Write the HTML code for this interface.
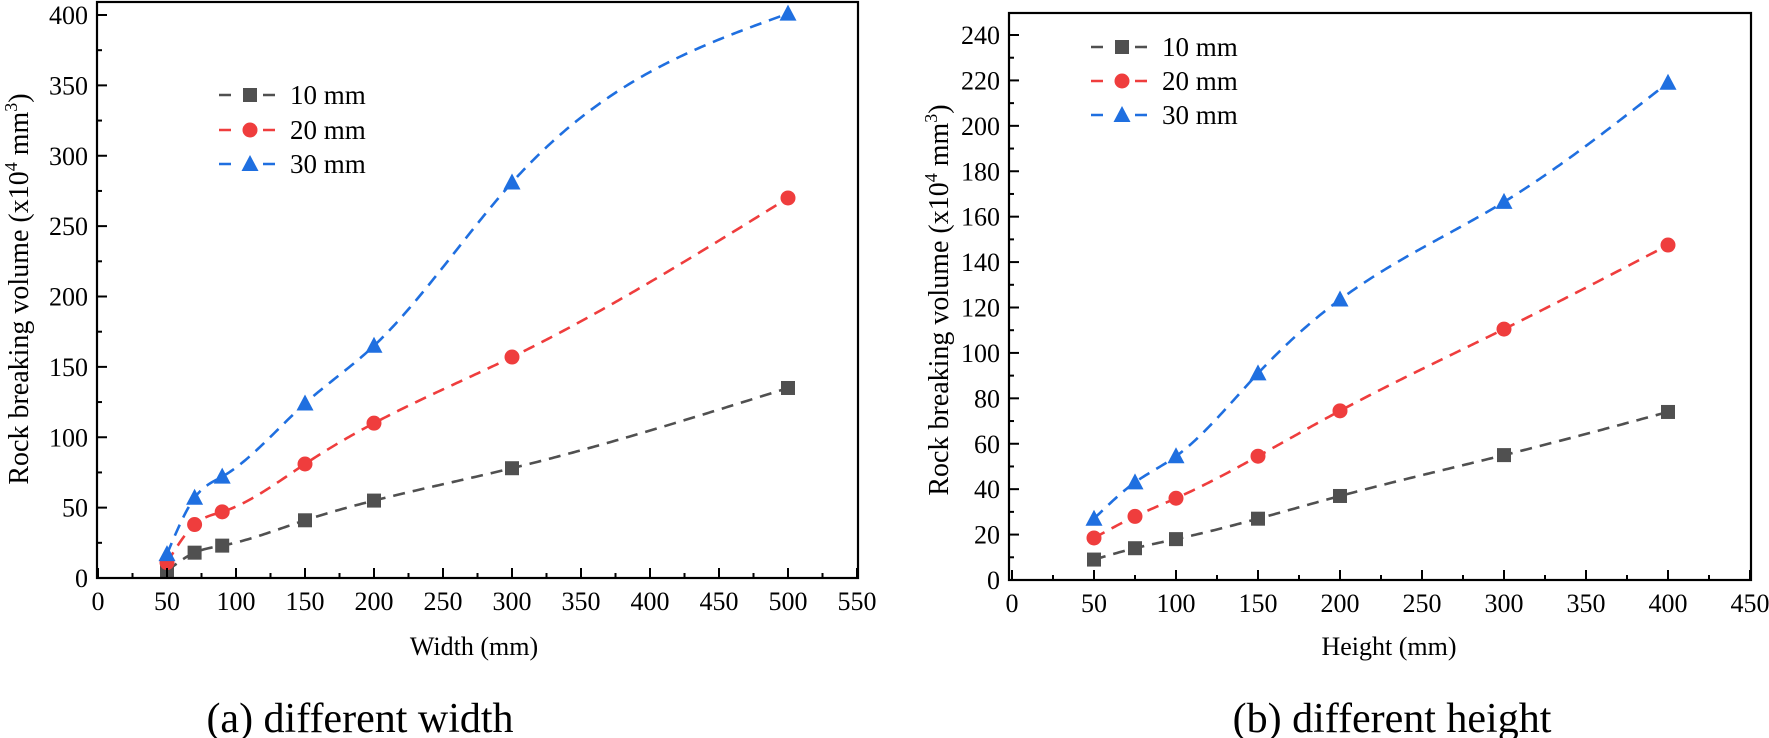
<!DOCTYPE html>
<html><head><meta charset="utf-8"><style>
html,body{margin:0;padding:0;background:#fff;}
svg{display:block;font-family:"Liberation Serif",serif;}
</style></head><body>
<svg id="s" width="1769" height="738" viewBox="0 0 1769 738" xmlns="http://www.w3.org/2000/svg"></svg>
<script>
const s=document.getElementById('s');let h='';
const C=['#505050','#ef3d3d','#1f6fe0'];
function spline(xs,ys){const n=xs.length,hh=[],a=[],m=new Array(n).fill(0);
for(let i=0;i<n-1;i++)hh[i]=xs[i+1]-xs[i];
const al=[0],l=[1],mu=[0],z=[0];
for(let i=1;i<n-1;i++){const r=3/hh[i]*(ys[i+1]-ys[i])-3/hh[i-1]*(ys[i]-ys[i-1]);
l[i]=2*(xs[i+1]-xs[i-1])-hh[i-1]*mu[i-1];mu[i]=hh[i]/l[i];z[i]=(r-hh[i-1]*z[i-1])/l[i];}
const c=new Array(n).fill(0),b=[],d=[];
for(let j=n-2;j>=0;j--){c[j]=(j==0?0:z[j]-mu[j]*c[j+1]);b[j]=(ys[j+1]-ys[j])/hh[j]-hh[j]*(c[j+1]+2*c[j])/3;d[j]=(c[j+1]-c[j])/(3*hh[j]);}
return x=>{let j=0;while(j<n-2&&x>xs[j+1])j++;const t=x-xs[j];return ys[j]+b[j]*t+c[j]*t*t+d[j]*t*t*t;};}
function mk(t,x,y,c){if(t==0)return `<rect x="${x-7}" y="${y-7}" width="14" height="14" fill="${c}"/>`;
if(t==1)return `<circle cx="${x}" cy="${y}" r="7.5" fill="${c}"/>`;return `<polygon points="${x},${y-9} ${x-8.5},${y+7} ${x+8.5},${y+7}" fill="${c}"/>`;}
function chart(o){const X=v=>o.x0+v*o.kx,Y=v=>o.y0-v*o.ky;
o.data.forEach((ser,i)=>{const f=spline(o.xs,ser);const a=o.xs[0],b=o.xs[o.xs.length-1];let d='';
for(let k=0;k<=300;k++){const x=a+(b-a)*k/300;d+=(k?'L':'M')+X(x).toFixed(2)+','+Y(f(x)).toFixed(2);}
h+=`<path d="${d}" fill="none" stroke="${C[i]}" stroke-width="2.6" stroke-dasharray="12,8"/>`;o.xs.forEach((x,j)=>h+=mk(i,X(x),Y(ser[j]),C[i]));});
h+=`<rect x="${o.L}" y="${o.T}" width="${o.R-o.L}" height="${o.y0-o.T}" fill="none" stroke="#000" stroke-width="2.2"/>`;
for(let v=0;v<=o.xmax+0.01;v+=o.xmi){const maj=Math.abs(v/o.xma-Math.round(v/o.xma))<1e-6;const x=X(v);
h+=`<line x1="${x}" y1="${o.y0}" x2="${x}" y2="${o.y0-(maj?10:5)}" stroke="#000" stroke-width="2"/>`;
if(maj)h+=`<text x="${x}" y="${o.y0+32}" font-size="26" text-anchor="middle">${v}</text>`;}
for(let v=0;v<=o.ymax+0.01;v+=o.ymi){const maj=Math.abs(v/o.yma-Math.round(v/o.yma))<1e-6;const y=Y(v);
h+=`<line x1="${o.L}" y1="${y}" x2="${o.L+(maj?10:5)}" y2="${y}" stroke="#000" stroke-width="2"/>`;
if(maj)h+=`<text x="${o.L-9}" y="${y+9}" font-size="26" text-anchor="end">${v}</text>`;}
o.leg.forEach((ly,i)=>{const lx=o.lx;h+=`<line x1="${lx-31}" y1="${ly}" x2="${lx+33}" y2="${ly}" stroke="${C[i]}" stroke-width="2.6" stroke-dasharray="12,10"/>`+
`<rect x="${lx-12}" y="${ly-8}" width="24" height="16" fill="#fff"/>`+mk(i,lx,ly,C[i])+`<text x="${lx+40}" y="${ly+9}" font-size="27">${(i+1)*10} mm</text>`;});
h+=`<text x="${o.xc}" y="655" font-size="26" text-anchor="middle">${o.xl}</text>`;
h+=`<text transform="translate(${o.yl},${o.ym}) rotate(-90)" font-size="28" text-anchor="middle">Rock breaking volume (x10<tspan font-size="18" dy="-11">4</tspan><tspan dy="11"> mm</tspan><tspan font-size="18" dy="-11">3</tspan><tspan dy="11">)</tspan></text>`;
h+=`<text x="${o.cc}" y="732" font-size="42" text-anchor="middle">${o.cap}</text>`;}
chart({x0:98,kx:1.38,y0:578,ky:563/400,L:97,R:858,T:2,xmax:550,xma:50,xmi:25,ymax:400,yma:50,ymi:25,
xs:[50,70,90,150,200,300,500],data:[[5,18,23,41,55,78,135],[11,38,47,81,110,157,270],[17,57,72,124,165,281,401]],
lx:250,leg:[95,130,164],xc:474,xl:'Width (mm)',yl:28,ym:289,cc:360,cap:'(a) different width'});
chart({x0:1012,kx:1.64,y0:580,ky:545/240,L:1009,R:1751,T:13,xmax:450,xma:50,xmi:25,ymax:240,yma:20,ymi:10,
xs:[50,75,100,150,200,300,400],data:[[9,14,18,27,37,55,74],[18.5,28,36,54.5,74.5,110.5,147.5],[27,43,54.5,91,123.5,166.5,219]],
lx:1122,leg:[47,81,115],xc:1389,xl:'Height (mm)',yl:948,ym:300,cc:1392,cap:'(b) different height'});
s.innerHTML=h;
</script>
</body></html>
